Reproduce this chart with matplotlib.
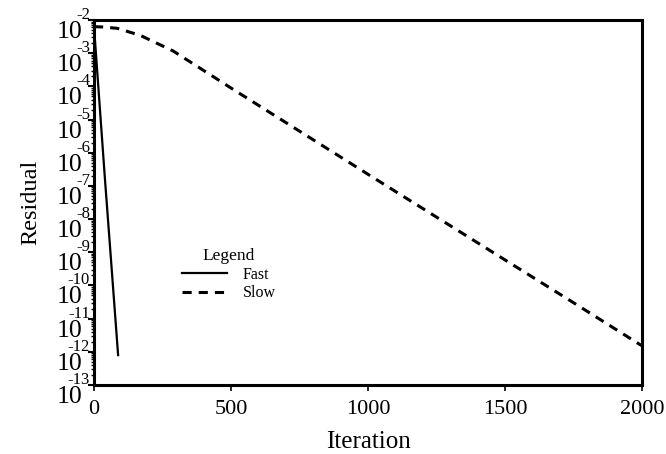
import matplotlib
matplotlib.use('Agg')
import matplotlib.pyplot as plt
from matplotlib.ticker import FixedLocator, LogLocator, NullFormatter
import numpy as np

plt.rcParams['font.family'] = ['Liberation Serif', 'DejaVu Serif']

# convergence histories (log10 of residual)
fast_iter = [0, 20, 40, 60, 88]
fast_log = [-2.2, -4.5, -6.8, -9.0, -12.1]

slow_iter = [0, 30, 84, 168, 288, 434, 500, 750, 1000, 1250, 1500, 1750, 2000]
slow_log = [-2.2, -2.21, -2.25, -2.46, -2.93, -3.7, -4.05, -5.35, -6.65, -7.94, -9.23, -10.52, -11.82]

yticks_exp = list(range(-13, -1))
xticks = [0, 500, 1000, 1500, 2000]

fig = plt.figure(figsize=(6.66, 4.54), dpi=100)
ax = fig.add_axes([94/666, 1-385/454, (642-94)/666, (385-20)/454])

ax.plot(fast_iter, 10.0**np.array(fast_log), color='black', lw=1.6, label='Fast')
ax.plot(slow_iter, 10.0**np.array(slow_log), color='black', lw=2.2,
        dashes=(3.0, 2.3), label='Slow')

ax.set_yscale('log')
ax.set_xlim(0, 2000)
ax.set_ylim(1e-13, 1e-2)

ax.yaxis.set_major_locator(FixedLocator([10.0**e for e in yticks_exp]))
ax.yaxis.set_major_formatter(NullFormatter())
ax.yaxis.set_minor_locator(LogLocator(base=10, subs=np.arange(2, 10), numticks=50))
ax.yaxis.set_minor_formatter(NullFormatter())
ax.set_xticks(xticks)
ax.set_xticklabels([str(x) for x in xticks])

ax.tick_params(axis='y', which='major', direction='out', length=4, width=1.5)
ax.tick_params(axis='y', which='minor', direction='out', length=2.5, width=1)
ax.tick_params(axis='x', which='major', direction='out', length=4, width=1.2,
               pad=7, labelsize=16)

# old-style labels: "10" hangs below the tick, exponent sits above it
px = 72.0 / fig.dpi
for e in yticks_exp:
    ax.annotate('10', xy=(0, 10.0**e), xycoords=('axes fraction', 'data'),
                xytext=(-12*px, -18*px), textcoords='offset points',
                ha='right', va='baseline', fontsize=18.5)
    ax.annotate(str(e), xy=(0, 10.0**e), xycoords=('axes fraction', 'data'),
                xytext=(-4*px, 1*px), textcoords='offset points',
                ha='right', va='baseline', fontsize=12)

for s in ax.spines.values():
    s.set_linewidth(2.2)

ax.set_xlabel('Iteration', fontsize=18)
ax.set_ylabel('Residual', fontsize=17.5)
ax.xaxis.set_label_coords(0.5, -0.125)
ax.yaxis.set_label_coords(-0.097, 0.5)

leg = ax.legend(title='Legend', loc='upper left', bbox_to_anchor=(0.14, 0.405),
                frameon=False, fontsize=11.5, title_fontsize=12.5,
                handlelength=2.8, handletextpad=1.0, labelspacing=0.15,
                borderpad=0.2)

fig.savefig('out.png', dpi=100)
